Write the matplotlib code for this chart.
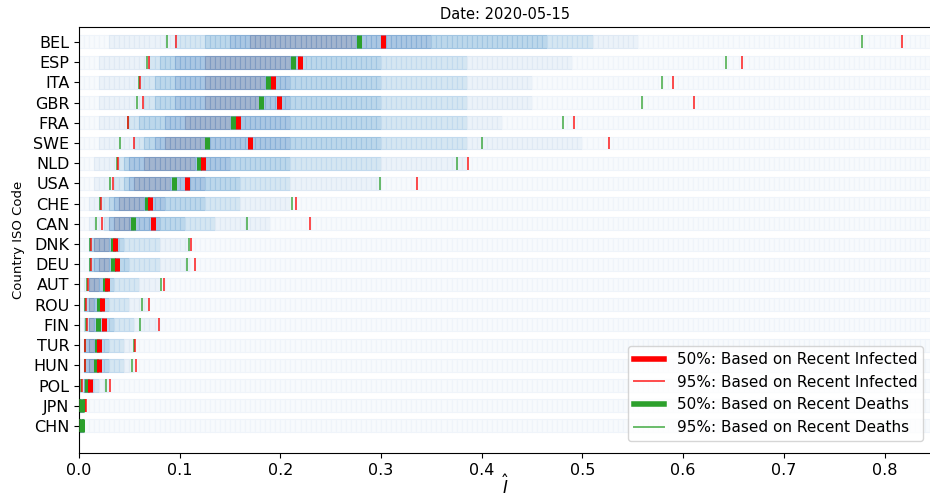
import numpy as np
import matplotlib
matplotlib.use("Agg")
import matplotlib.pyplot as plt
from matplotlib.lines import Line2D

countries = ["BEL", "ESP", "ITA", "GBR", "FRA", "SWE", "NLD", "USA", "CHE", "CAN",
             "DNK", "DEU", "AUT", "ROU", "FIN", "TUR", "HUN", "POL", "JPN", "CHN"]

# 95% bounds and 50% (median) estimates
inf_lo = [0.0965, 0.0697, 0.061, 0.0637, 0.049, 0.0547, 0.039, 0.034, 0.022, 0.023,
          0.012, 0.012, 0.009, 0.007, 0.008, 0.006, 0.006, 0.003, 0.0058, None]
inf_mid = [0.302, 0.219, 0.193, 0.199, 0.158, 0.170, 0.123, 0.107, 0.0703, 0.073,
           0.036, 0.038, 0.028, 0.023, 0.025, 0.020, 0.020, 0.011, None, None]
inf_hi = [0.817, 0.658, 0.590, 0.611, 0.492, 0.526, 0.386, 0.336, 0.216, 0.229,
          0.111, 0.115, 0.084, 0.0697, 0.0796, 0.056, 0.057, 0.031, 0.0066, None]
dth_lo = [0.0876, 0.0677, 0.060, 0.0577, 0.0484, 0.0408, 0.038, 0.0305, 0.021, 0.017,
          0.011, 0.011, 0.008, 0.006, 0.0066, 0.006, 0.006, 0.002, 0.0005, 0.0005]
dth_mid = [0.278, 0.213, 0.188, 0.181, 0.153, 0.127, 0.119, 0.0945, 0.0673, 0.0534,
           0.034, 0.034, 0.026, 0.0199, 0.019, 0.018, 0.017, 0.008, 0.0025, 0.0025]
dth_hi = [0.778, 0.643, 0.579, 0.559, 0.481, 0.400, 0.375, 0.2985, 0.212, 0.167,
          0.109, 0.107, 0.081, 0.063, 0.061, 0.0547, 0.053, 0.027, 0.005, 0.004]

# nested shading intervals (lightest -> darkest) for each country
lvl_lo = [(0.029, 0.0955, 0.125, 0.152, 0.172),
          (0.020, 0.068, 0.079, 0.095, 0.125),
          (0.020, 0.059, 0.076, 0.095, 0.125),
          (0.020, 0.064, 0.075, 0.095, 0.125),
          (0.020, 0.049, 0.060, 0.085, 0.105),
          (0.020, 0.055, 0.065, 0.075, 0.085),
          (0.015, 0.038, 0.045, 0.050, 0.063),
          (0.015, 0.034, 0.045, 0.050, 0.056),
          (0.010, 0.022, 0.030, 0.035, 0.041),
          (0.010, 0.023, 0.030, 0.032, 0.036),
          (0.008, 0.011, 0.012, 0.014, 0.016),
          (0.008, 0.011, 0.012, 0.014, 0.018),
          (0.005, 0.008, 0.009, 0.010, 0.012),
          (0.004, 0.006, 0.007, 0.008, 0.009),
          (0.004, 0.007, 0.008, 0.009, 0.010),
          (0.004, 0.005, 0.006, 0.007, 0.008),
          (0.004, 0.005, 0.006, 0.007, 0.008),
          (0.002, 0.002, 0.003, 0.004, 0.005),
          (0.000, 0.000, 0.000, 0.000, 0.000),
          (0.000, 0.000, 0.000, 0.000, 0.000)]
lvl_hi = [(0.555, 0.508, 0.467, 0.349, 0.273),
          (0.490, 0.387, 0.298, 0.222, 0.212),
          (0.450, 0.387, 0.298, 0.212, 0.185),
          (0.450, 0.387, 0.298, 0.212, 0.178),
          (0.420, 0.387, 0.298, 0.212, 0.150),
          (0.500, 0.387, 0.298, 0.212, 0.125),
          (0.387, 0.298, 0.212, 0.150, 0.115),
          (0.300, 0.212, 0.160, 0.125, 0.092),
          (0.212, 0.160, 0.125, 0.085, 0.064),
          (0.190, 0.135, 0.105, 0.080, 0.056),
          (0.110, 0.079, 0.046, 0.038, 0.031),
          (0.110, 0.079, 0.050, 0.040, 0.031),
          (0.082, 0.060, 0.035, 0.028, 0.022),
          (0.070, 0.050, 0.030, 0.024, 0.016),
          (0.080, 0.055, 0.035, 0.026, 0.017),
          (0.057, 0.045, 0.030, 0.020, 0.015),
          (0.057, 0.045, 0.030, 0.020, 0.015),
          (0.030, 0.020, 0.014, 0.012, 0.010),
          (0.007, 0.006, 0.005, 0.005, 0.004),
          (0.005, 0.005, 0.005, 0.004, 0.004)]

face_cols = ["#f7fafd", "#ebf2f9", "#d5e6f2", "#bcd7eb", "#aac7e3", "#a2b5cf"]
edge_cols = ["#eff4fa", "#dfe9f4", "#c2daee", "#a1c5e2", "#89b0d7", "#7f9bc2"]

XMAX = 0.847
BIN = 0.005
H = 0.64

fig = plt.figure(figsize=(9.3, 4.99), dpi=100)
ax = fig.add_axes([79 / 930, 1 - 453 / 499, 1.002 - 79 / 930, (453 - 27) / 499])

left = np.arange(0, XMAX + BIN, BIN)
centers = left + BIN / 2
for i, c in enumerate(countries):
    level = np.zeros(len(left), dtype=int)
    for lo, hi in zip(lvl_lo[i], lvl_hi[i]):
        level += ((centers >= lo) & (centers <= hi)).astype(int)
    ax.barh(np.full(len(left), i), BIN, left=left, height=H,
            color=[face_cols[k] for k in level],
            edgecolor=[edge_cols[k] for k in level], linewidth=0.8, zorder=1)

    # deaths first, infected drawn on top
    for lo, mid, hi, col in [(dth_lo[i], dth_mid[i], dth_hi[i], "#2ca02c"),
                             (inf_lo[i], inf_mid[i], inf_hi[i], "red")]:
        if lo is not None:
            ax.vlines([lo, hi], i - H / 2, i + H / 2, color=col, lw=1.4, alpha=0.7, zorder=3)
        if mid is not None:
            ax.vlines(mid, i - H / 2, i + H / 2, color=col, lw=3.6, zorder=4)

ax.set_yticks(range(len(countries)))
ax.set_yticklabels(countries, fontsize=11.5)
ax.set_ylim(20.34, -0.74)
ax.set_xlim(0, XMAX)
ax.set_xticks(np.arange(0, 0.81, 0.1))
ax.tick_params(axis="x", labelsize=11.5)
ax.set_xlabel(r"$\hat{I}$", fontsize=12)
ax.xaxis.set_label_coords(0.5, -0.05)
ax.set_ylabel("Country ISO Code", fontsize=9.5, labelpad=6)
ax.set_title("Date: 2020-05-15", fontsize=10.5)

handles = [Line2D([], [], color="red", lw=4),
           Line2D([], [], color="red", lw=1.4, alpha=0.7),
           Line2D([], [], color="#2ca02c", lw=4),
           Line2D([], [], color="#2ca02c", lw=1.4, alpha=0.7)]
labels = ["50%: Based on Recent Infected", "95%: Based on Recent Infected",
          "50%: Based on Recent Deaths", "95%: Based on Recent Deaths"]
ax.legend(handles, labels, loc="lower right", fontsize=11, bbox_to_anchor=(0.999, 0.01))

fig.savefig("out.png", dpi=100)
